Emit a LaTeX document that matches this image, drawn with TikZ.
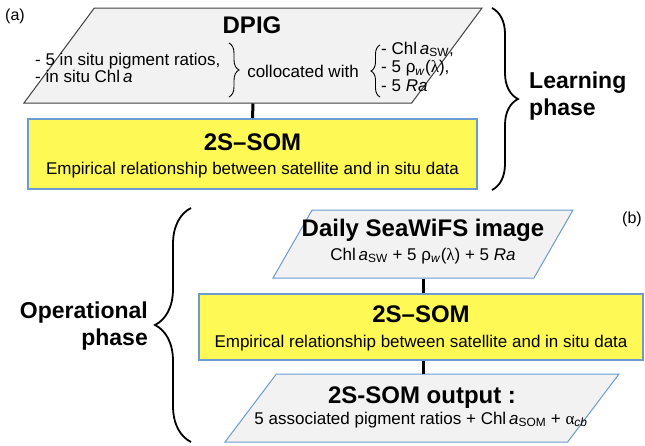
\documentclass[tikz,border=0pt]{standalone}
\usepackage{fontspec}
\setmainfont{Liberation Sans}
\newfontfamily\greekfont{Liberation Serif}
\usetikzlibrary{shapes.geometric,decorations.pathreplacing}

\definecolor{somyellow}{HTML}{FFF955}
\definecolor{boxblue}{HTML}{6C9BCF}
\definecolor{boxgray}{HTML}{F2F2F2}

\newcommand{\chla}[1]{Chl\,\textit{a}\textsubscript{#1}}
\newcommand{\rhow}{\textrm{ρ}\textsubscript{\textit{w}}({\greekfont λ})}

\tikzset{
  databox/.style={trapezium, trapezium stretches=true, fill=boxgray,
    draw=boxblue, line width=1pt, inner sep=1pt},
  sombox/.style={rectangle, fill=somyellow, draw=boxblue, line width=2pt, inner sep=0pt},
  link/.style={line width=3pt},
  phasebrace/.style={decorate, decoration={brace, amplitude=#1}, line width=1.8pt},
  textbrace/.style={decorate, decoration={brace, amplitude=#1}, line width=0.9pt},
  title/.style={font=\fontsize{24}{26}\selectfont\bfseries, anchor=base, inner sep=0pt},
  body/.style={font=\fontsize{17}{17}\selectfont, anchor=base, inner sep=0pt},
  phase/.style={font=\fontsize{23}{27}\selectfont\bfseries, inner sep=0pt},
  panel/.style={font=\fontsize{16}{18}\selectfont, anchor=base, inner sep=0pt}
}

\begin{document}
\begin{tikzpicture}[x=1pt,y=-1pt]
    \useasboundingbox (0,0) rectangle (645,445);

    % learning phase
    \node[databox, draw=black!75, trapezium left angle=77.5, trapezium right angle=102.5,
      minimum width=458pt, minimum height=95pt] (dpig) at (253,55.5) {};
    \node[sombox, minimum width=449pt, minimum height=70pt] (som1) at (252.5,154) {};
    \draw[link] (dpig.south) -- (som1.north);

    \node[title] (dpigtitle) at (252,33) {DPIG};
    \node[body, anchor=base west, align=left] (insitu) at (35,82)
      {- 5 in situ pigment ratios,\\- in situ Chl\,\textit{a}};
    \node[body] (colloc) at (303,77) {collocated with};
    \node[body, anchor=base west, align=left, font=\fontsize{17}{18.5}\selectfont] (satdata) at (381,91)
      {- \chla{SW},\\- 5 \rhow,\\- 5 \textit{Ra}};
    \draw[textbrace=10pt] (229,43) -- (229,97);
    \draw[textbrace=9pt] (380,97) -- (380,45);

    \node[title] (som1title) at (252.5,150) {2S--SOM};
    \node[body] (som1text) at (252.5,174)
      {Empirical relationship between satellite and in situ data};

    \draw[phasebrace=26pt] (492,8) -- (492,190);
    \node[phase, anchor=base west, align=left] (learn) at (529,115) {Learning\\phase};
    \node[panel] (panela) at (15,20) {(a)};

    % operational phase
    \node[databox, trapezium left angle=80, trapezium right angle=100,
      minimum width=300pt, minimum height=68pt] (daily) at (423,244) {};
    \node[sombox, minimum width=444pt, minimum height=66pt] (som2) at (421,327) {};
    \node[databox, trapezium left angle=80, trapezium right angle=100,
      minimum width=394pt, minimum height=68pt] (output) at (422,408) {};
    \draw[link] (daily.south) -- (daily.south |- som2.north);
    \draw[link] (som2.south -| daily.south) -- (daily.south |- output.north);

    \node[title] (dailytitle) at (423,236) {Daily SeaWiFS image};
    \node[body] (dailytext) at (423,260) {\chla{SW} + 5 \rhow{} + 5 \textit{Ra}};
    \node[title] (som2title) at (421,322) {2S--SOM};
    \node[body] (som2text) at (421,347)
      {Empirical relationship between satellite and in situ data};
    \node[title] (outtitle) at (422,403) {2S-SOM output :};
    \node[body] (outtext) at (421,424)
      {5 associated pigment ratios + \chla{SOM} + {\greekfont α}\textsubscript{\textit{cb}}};

    \draw[phasebrace=36pt] (191,442) -- (191,208);
    \node[phase, anchor=base east, align=right] (oper) at (148,345) {Operational\\phase};
    \node[panel] (panelb) at (632,223) {(b)};
\end{tikzpicture}
\end{document}
